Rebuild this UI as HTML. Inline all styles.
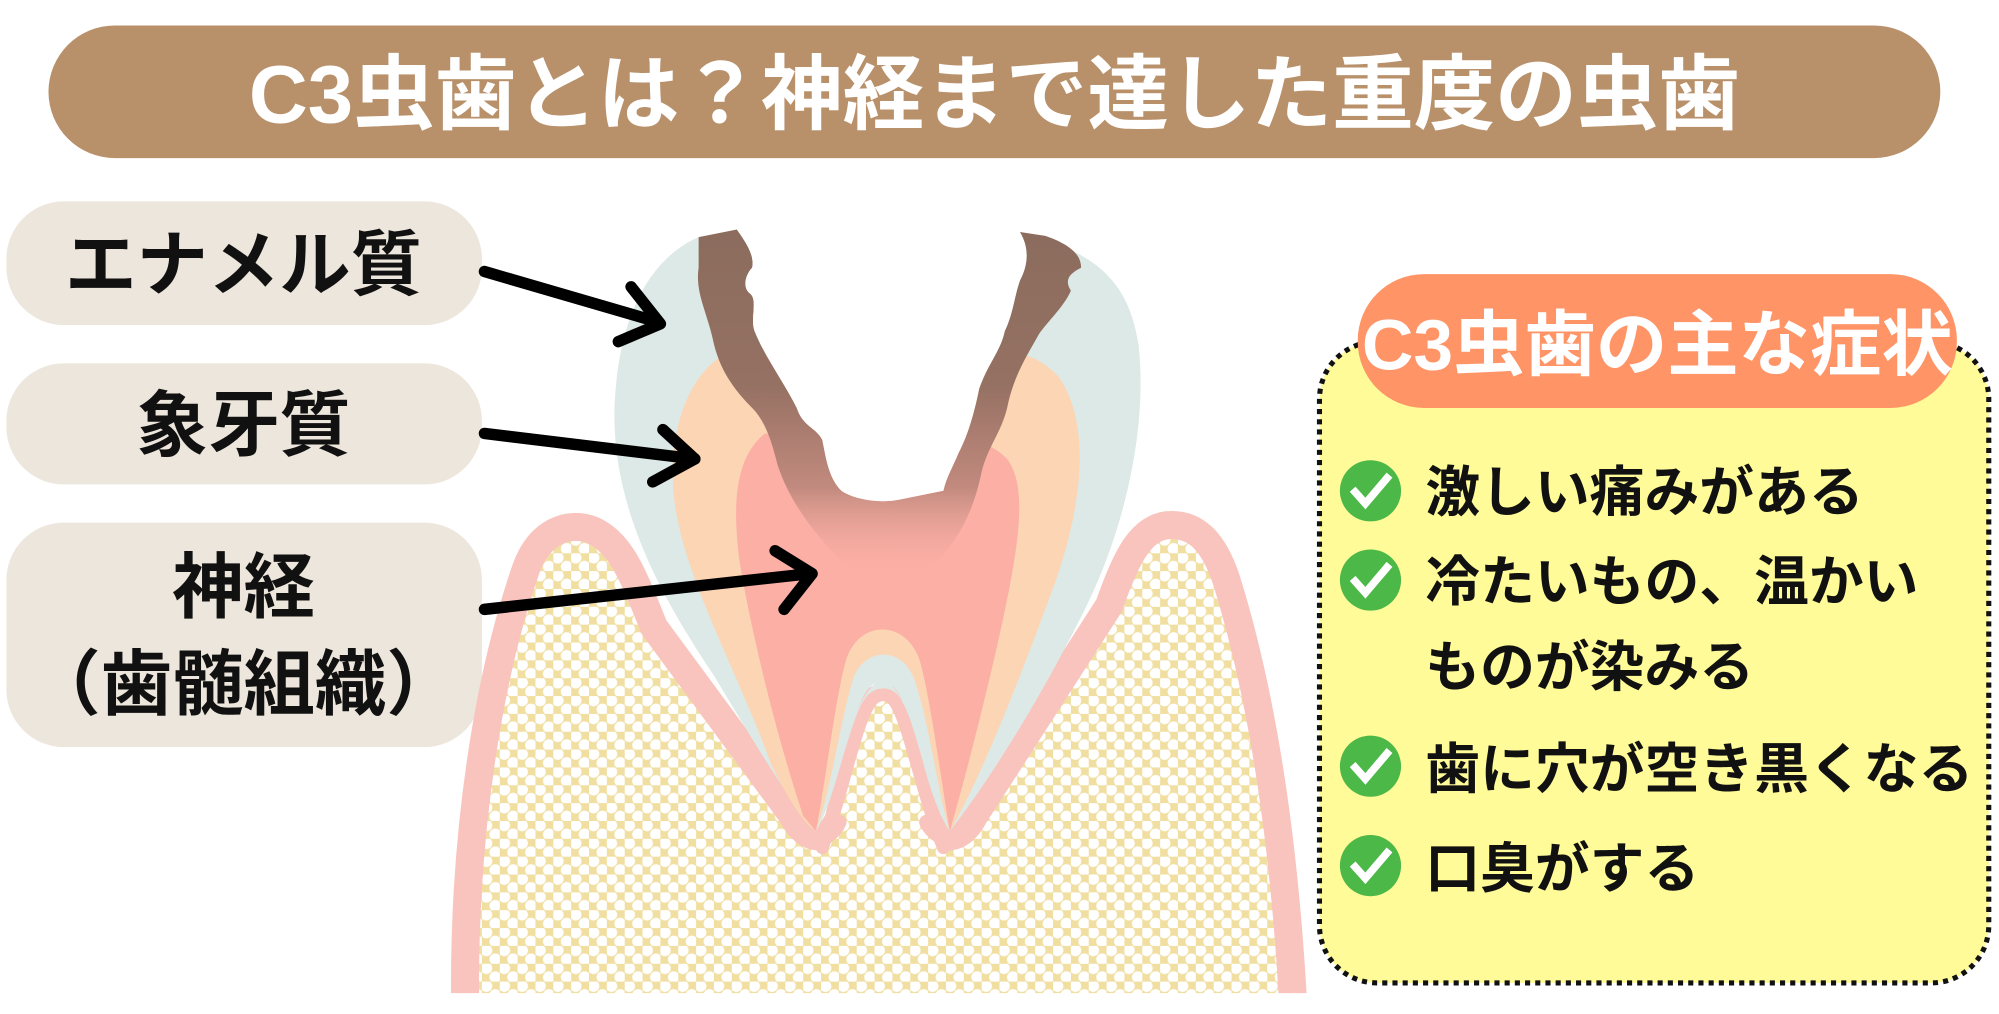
<!DOCTYPE html>
<html><head><meta charset="utf-8"><style>
html,body{margin:0;padding:0;background:#fff;width:1999px;height:1014px;overflow:hidden}
svg{display:block}
text{font-family:"Liberation Sans","Noto Sans CJK JP",sans-serif;font-weight:bold}
</style></head><body>
<svg width="1999" height="1014" viewBox="0 0 1568 795.4" xmlns="http://www.w3.org/2000/svg">
<defs>
<pattern id="dots" width="14" height="14" patternUnits="userSpaceOnUse">
<rect width="14" height="14" fill="#f1dfa2"/>
<circle cx="3.5" cy="3.5" r="4.6" fill="#fff"/>
<circle cx="10.5" cy="10.5" r="4.6" fill="#fff"/>
</pattern>
<linearGradient id="decay" gradientUnits="userSpaceOnUse" x1="0" y1="180" x2="0" y2="450">
<stop offset="0" stop-color="#8b6c5d"/>
<stop offset="0.45" stop-color="#957163"/>
<stop offset="0.75" stop-color="#c28a7e"/>
<stop offset="1" stop-color="#f6aba0" stop-opacity="0"/>
</linearGradient>
<clipPath id="cl"><rect x="0" y="0" width="1568" height="779"/></clipPath>
</defs>

<rect x="38" y="20" width="1484" height="104" rx="52" fill="#b8916b"/>
<text x="780" y="96" font-size="64" fill="#fff" text-anchor="middle">C3虫歯とは？神経まで達した重度の虫歯</text>

<rect x="5" y="158" width="373" height="97" rx="45" fill="#ede6dc"/>
<text x="191" y="227" font-size="56" fill="#111" text-anchor="middle">エナメル質</text>
<rect x="5" y="285" width="373" height="95" rx="45" fill="#ede6dc"/>
<text x="191" y="353" font-size="56" fill="#111" text-anchor="middle">象牙質</text>
<rect x="5" y="410" width="373" height="176" rx="45" fill="#ede6dc"/>
<text x="191" y="480" font-size="56" fill="#111" text-anchor="middle">神経</text>
<text x="191" y="556" font-size="56" fill="#111" text-anchor="middle">（歯髄組織）</text>

<g clip-path="url(#cl)">
<path d="M 365 800 C 362 650, 385 525, 413 445 C 423 418, 445 408, 465 416 C 488 426, 498 455, 513 492 L 622 640 C 632 660, 650 662, 658 642 L 678 562 C 684 543, 700 543, 706 562 L 727 642 C 736 662, 754 660, 764 640 L 870 475 C 884 435, 895 415, 915 412 C 938 410, 952 425, 962 455 C 990 545, 1008 660, 1015 800 Z" fill="url(#dots)" stroke="#f8c4bd" stroke-width="22" stroke-linejoin="round"/>
</g>

<path d="M 548 186 C 515 200, 485 240, 482 320 C 480 400, 520 470, 560 530 C 590 580, 620 630, 640 652 C 655 628, 665 570, 678 545 C 686 530, 700 532, 707 548 C 720 580, 730 630, 745 652 C 770 620, 810 560, 850 480 C 885 410, 900 330, 893 270 C 885 220, 860 198, 800 182 L 760 340 L 705 392 L 640 340 Z" fill="#dde9e6"/>
<path d="M 565 280 C 535 300, 522 350, 530 400 C 540 460, 580 530, 605 600 C 620 630, 632 648, 640 652 C 652 620, 660 560, 670 530 C 680 508, 706 508, 716 530 C 728 560, 735 620, 745 652 C 770 610, 805 520, 830 450 C 850 390, 855 330, 830 295 C 815 280, 800 275, 790 280 Z" fill="#fbd5b4"/>
<path d="M 652 652 C 660 600, 668 545, 692 532 C 716 545, 724 600, 733 652 Z" fill="#dde9e6"/>
<path d="M 600 340 C 575 360, 575 400, 580 440 C 590 500, 610 580, 630 640 L 640 652 C 648 610, 655 550, 663 520 C 672 485, 712 485, 722 520 C 730 550, 738 610, 745 652 C 760 600, 780 520, 790 470 C 800 420, 805 380, 790 360 C 775 345, 760 345, 750 350 Z" fill="#fcafa5"/>
<!-- middle gum wedge -->
<path d="M 645 675 C 662 620, 672 560, 685 548 C 690 544, 696 544, 700 548 C 712 560, 722 620, 740 675 Z" fill="url(#dots)"/>
<path d="M 645 665 C 662 620, 672 560, 685 548 C 690 544, 696 544, 700 548 C 712 560, 722 620, 740 665" fill="none" stroke="#f8c4bd" stroke-width="10" stroke-linecap="round"/>
<path d="M 620 640 C 632 662, 650 662, 658 645 M 727 645 C 736 662, 754 662, 766 640" fill="none" stroke="#f8c4bd" stroke-width="12" stroke-linecap="round"/>

<path d="M 548 186 L 578 180 C 585 190, 592 200, 590 210 C 585 215, 582 225, 588 230 C 595 235, 588 250, 592 260 C 600 280, 615 300, 625 320 C 630 335, 640 335, 645 345 C 648 360, 650 375, 660 385 C 670 392, 690 395, 705 392 L 740 385 C 742 375, 748 365, 752 355 C 760 340, 765 320, 768 305 C 775 285, 785 275, 788 260 C 795 245, 795 235, 800 220 C 808 205, 806 192, 800 182 L 820 185 C 840 192, 848 200, 848 210 C 838 215, 835 220, 840 228 C 835 240, 822 252, 815 262 C 805 280, 795 295, 790 320 C 785 340, 775 350, 770 370 C 765 395, 755 420, 735 440 C 715 455, 680 455, 660 440 C 640 420, 620 395, 610 365 C 605 345, 600 330, 590 320 C 575 305, 565 290, 560 270 C 555 245, 545 230, 548 210 Z" fill="url(#decay)"/>
<path d="M 578 160 L 578 180 C 585 190, 592 200, 590 210 C 585 215, 582 225, 588 230 C 595 235, 588 250, 592 260 C 600 280, 615 300, 625 320 C 630 335, 640 335, 645 345 C 648 360, 650 375, 660 385 C 670 392, 690 395, 705 392 L 740 385 C 742 375, 748 365, 752 355 C 760 340, 765 320, 768 305 C 775 285, 785 275, 788 260 C 795 245, 795 235, 800 220 C 808 205, 806 192, 800 182 L 800 160 Z" fill="#fff"/>

<g stroke="#000" stroke-width="9" stroke-linecap="round" stroke-linejoin="round" fill="none">
<line x1="380" y1="213" x2="514" y2="252"/>
<polyline points="495,225 518,254 485,268"/>
<line x1="380" y1="340" x2="545" y2="360"/>
<polyline points="520,337 545,360 512,378"/>
<line x1="380" y1="478" x2="635" y2="450"/>
<polyline points="608,432 637,450 615,478"/>
</g>

<rect x="1035" y="268" width="525" height="503" rx="45" fill="#fffb98" stroke="#111" stroke-width="4" stroke-dasharray="4 4"/>
<rect x="1065" y="215" width="470" height="105" rx="52" fill="#ff9467"/>
<text x="1300" y="290" font-size="56" fill="#fff" text-anchor="middle">C3虫歯の主な症状</text>

<g font-size="43" fill="#111">
<text x="1118" y="401">激しい痛みがある</text>
<text x="1118" y="471">冷たいもの、温かい</text>
<text x="1118" y="538">ものが染みる</text>
<text x="1118" y="618">歯に穴が空き黒くなる</text>
<text x="1118" y="696">口臭がする</text>
</g>
<g>
<circle cx="1075" cy="385" r="24" fill="#4cb848"/>
<circle cx="1075" cy="455" r="24" fill="#4cb848"/>
<circle cx="1075" cy="601" r="24" fill="#4cb848"/>
<circle cx="1075" cy="679" r="24" fill="#4cb848"/>
<g stroke="#fff" stroke-width="6" fill="none" stroke-linecap="square">
<polyline points="1063,386 1071,395 1088,375"/>
<polyline points="1063,456 1071,465 1088,445"/>
<polyline points="1063,602 1071,611 1088,591"/>
<polyline points="1063,680 1071,689 1088,669"/>
</g>
</g>
</svg>
</body></html>
